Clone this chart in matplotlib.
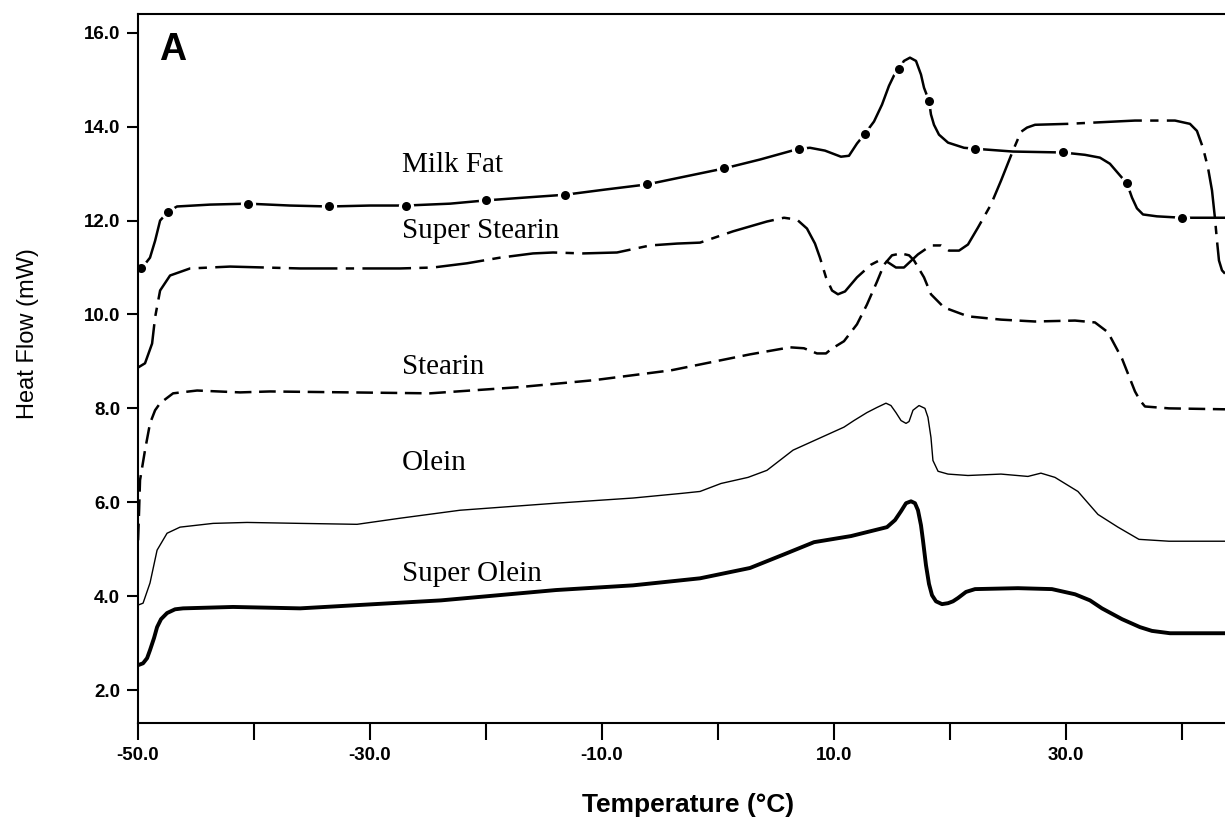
"""DSC melting thermograms of milk fat and its fractions (panel A)."""
import numpy as np
import matplotlib
matplotlib.use("Agg")
import matplotlib.pyplot as plt
from matplotlib.ticker import FormatStrFormatter

plt.rcParams["font.family"] = ["Liberation Sans", "DejaVu Sans"]
plt.rcParams["axes.unicode_minus"] = False
plt.rcParams["lines.scale_dashes"] = False

# Heat flow (mW) vs temperature (C)
milk_fat_temp = [-50.0, -49.57, -48.97, -48.53, -48.1, -47.41, -46.64, -43.79, -40.52,
                 -36.9, -33.53, -30.0, -26.9, -23.1, -20.0, -16.64, -13.19, -9.74, -6.12,
                 -2.41, 0.52, 3.62, 6.98, 7.93, 9.22, 10.6, 11.29, 11.98, 12.67, 13.45,
                 14.14, 14.74, 15.17, 15.6, 16.03, 16.55, 17.07, 17.5, 17.76, 18.19,
                 18.36, 18.62, 19.05, 19.83, 21.21, 22.16, 25.43, 29.74, 31.64, 32.93,
                 33.79, 34.66, 35.26, 35.69, 36.12, 36.64, 37.84, 40.0, 43.71]
milk_fat_flow = [10.94, 11.02, 11.21, 11.57, 12.0, 12.19, 12.3, 12.34, 12.36,
                 12.32, 12.3, 12.32, 12.32, 12.36, 12.43, 12.49, 12.55, 12.66, 12.77,
                 12.96, 13.11, 13.3, 13.53, 13.55, 13.49, 13.36, 13.38, 13.64, 13.85, 14.11,
                 14.47, 14.87, 15.09, 15.23, 15.4, 15.47, 15.4, 15.11, 14.83, 14.55,
                 14.26, 14.04, 13.83, 13.66, 13.55, 13.53, 13.47, 13.45, 13.4, 13.34,
                 13.21, 12.96, 12.79, 12.49, 12.26, 12.13, 12.09, 12.06, 12.06]
milk_fat_dot_temp = [-49.74, -47.41, -40.52, -33.53, -26.9, -20.0, -13.19, -6.12, 0.52,
                     6.98, 12.67, 15.6, 18.19, 22.16, 29.74, 35.26, 40.0]

super_stearin_temp = [-50.0, -49.4, -48.79, -48.53, -48.1, -47.24, -45.52, -42.07, -36.03,
                      -27.41, -24.57, -21.64, -18.79, -15.95, -14.22, -11.64, -8.71, -5.86,
                      -3.53, -1.55, 1.29, 4.22, 5.69, 6.81, 7.67, 8.36, 8.79, 9.31, 9.83,
                      10.34, 10.95, 11.98, 13.19, 14.05, 14.66, 15.34, 16.03, 17.24, 18.36,
                      19.22, 19.91, 20.78, 21.55, 22.41, 23.53, 24.4, 25.43, 26.12, 26.64,
                      27.33, 30.17, 35.95, 39.4, 40.69, 41.29, 41.81, 42.24, 42.59, 42.84,
                      43.02, 43.19, 43.45, 43.71]
super_stearin_flow = [8.87, 8.96, 9.38, 9.94, 10.51, 10.83, 10.98, 11.02, 10.98,
                      10.98, 11.0, 11.09, 11.21, 11.3, 11.32, 11.3, 11.32, 11.47,
                      11.51, 11.53, 11.77, 11.98, 12.06, 12.02, 11.83, 11.51, 11.21, 10.79, 10.51,
                      10.43, 10.49, 10.79, 11.06, 11.17, 11.11, 11.0, 11.0, 11.28, 11.47,
                      11.47, 11.36, 11.36, 11.49, 11.85, 12.34, 12.85, 13.49, 13.89, 13.98,
                      14.04, 14.06, 14.13, 14.13, 14.06, 13.91, 13.55, 13.13, 12.64, 12.06,
                      11.57, 11.15, 10.94, 10.87]

stearin_temp = [-50.0, -49.91, -49.83, -49.4, -48.97, -48.53, -48.1, -46.98, -44.91, -41.21,
                -38.62, -31.72, -24.83, -17.24, -10.69, -4.05, 2.76, 6.21, 7.41, 8.53, 9.31,
                9.74, 10.86, 11.98, 12.84, 13.71, 14.31, 15.0, 15.78, 16.47, 16.9, 17.76,
                18.36, 19.48, 21.55, 24.4, 27.33, 30.78, 32.5, 33.62, 34.83, 35.95, 36.38,
                36.81, 38.88, 43.71]
stearin_flow = [5.19, 5.83, 6.47, 7.11, 7.68, 7.96, 8.11, 8.32, 8.38, 8.34,
                8.36, 8.34, 8.32, 8.45, 8.6, 8.81, 9.15, 9.3, 9.28, 9.17, 9.17,
                9.26, 9.43, 9.79, 10.21, 10.7, 11.06, 11.26, 11.3, 11.26, 11.15, 10.79,
                10.43, 10.15, 9.96, 9.89, 9.85, 9.87, 9.83, 9.62, 9.06, 8.36, 8.17,
                8.04, 8.0, 7.98]

olein_temp = [-50.0, -49.57, -48.97, -48.36, -47.5, -46.38, -43.53, -40.6, -36.03, -31.12,
              -27.41, -22.24, -13.97, -7.33, -3.1, -1.55, 0.26, 2.59, 4.22, 6.47,
              8.53, 10.86, 11.72, 12.84, 13.71, 14.48, 14.91, 15.34, 15.78, 16.21,
              16.47, 16.81, 17.33, 17.84, 18.1, 18.36, 18.53, 18.97, 19.83, 21.55,
              24.4, 26.72, 27.84, 29.05, 31.03, 32.76, 34.48, 36.29, 38.88, 43.71]
olein_flow = [3.81, 3.85, 4.28, 4.98, 5.34, 5.47, 5.55, 5.57, 5.55, 5.53,
              5.66, 5.83, 5.98, 6.09, 6.19, 6.23, 6.4, 6.53, 6.68, 7.11,
              7.34, 7.6, 7.74, 7.91, 8.02, 8.11, 8.06, 7.91, 7.74, 7.68,
              7.72, 7.96, 8.06, 8.0, 7.81, 7.38, 6.89, 6.66, 6.6, 6.57,
              6.6, 6.55, 6.62, 6.53, 6.23, 5.74, 5.47, 5.21, 5.17, 5.17]

super_olein_temp = [-50.0, -49.57, -49.22, -48.97, -48.62, -48.36, -48.02, -47.5, -46.81,
                    -46.12, -41.81, -36.03, -23.88, -13.97, -7.33, -1.55, 2.76, 5.69, 8.28,
                    11.47, 14.57, 15.26, 15.78, 16.21, 16.64, 16.98, 17.24, 17.5, 17.67,
                    17.93, 18.19, 18.45, 18.79, 19.31, 19.83, 20.26, 20.69, 21.38, 22.16,
                    25.86, 28.79, 30.78, 32.07, 33.1, 34.83, 36.38, 37.41, 38.97, 43.71]
super_olein_flow = [2.53, 2.57, 2.68, 2.85, 3.11, 3.34, 3.51, 3.64, 3.72,
                    3.74, 3.77, 3.74, 3.91, 4.13, 4.23, 4.38, 4.6, 4.89, 5.15,
                    5.28, 5.47, 5.62, 5.81, 5.98, 6.02, 5.98, 5.83, 5.51, 5.19,
                    4.66, 4.26, 4.02, 3.89, 3.83, 3.85, 3.89, 3.96, 4.09, 4.15,
                    4.17, 4.15, 4.04, 3.91, 3.74, 3.51, 3.34, 3.26, 3.21, 3.21]

curve_names = ["Milk Fat", "Super Stearin", "Stearin", "Olein", "Super Olein"]

x_major = [-50, -30, -10, 10, 30]
x_minor = [-40, -20, 0, 20, 40]
y_ticks = [2, 4, 6, 8, 10, 12, 14, 16]


def plot_thermograms(output_file="out.png"):
    fig = plt.figure(figsize=(12.25, 8.23), dpi=100)
    ax = fig.add_axes([0.1127, 0.1215, 0.8873, 0.8615])

    # Milk fat: solid line broken around filled dots
    ax.plot(milk_fat_temp, milk_fat_flow, color="black", lw=1.8, zorder=2)
    dot_flow = np.interp(milk_fat_dot_temp, milk_fat_temp, milk_fat_flow)
    ax.plot(milk_fat_dot_temp, dot_flow, "o", ms=11, mfc="white", mec="white",
            mew=0, zorder=3)
    ax.plot(milk_fat_dot_temp, dot_flow, "o", ms=6.5, mfc="black", mec="black",
            mew=0, zorder=4)

    ax.plot(super_stearin_temp, super_stearin_flow, color="black", lw=1.8,
            dashes=(35, 6, 6, 6))
    ax.plot(stearin_temp, stearin_flow, color="black", lw=1.8, dashes=(12, 5.5))
    ax.plot(olein_temp, olein_flow, color="black", lw=1.0)
    ax.plot(super_olein_temp, super_olein_flow, color="black", lw=2.8)

    # curve labels
    label_y = [13.04, 11.62, 8.74, 6.68, 4.32]
    for name, y in zip(curve_names, label_y):
        ax.text(-27.24, y, name, family=["Liberation Serif", "DejaVu Serif"],
                fontsize=21, ha="left", va="baseline")
    ax.text(-48.2, 15.43, "A", fontsize=27, fontweight="bold", va="baseline")

    ax.set_xlim(-50, 43.71)
    ax.set_ylim(1.298, 16.40)
    ax.set_xticks(x_major)
    ax.set_xticks(x_minor, minor=True)
    ax.set_yticks(y_ticks)
    ax.xaxis.set_major_formatter(FormatStrFormatter("%.1f"))
    ax.yaxis.set_major_formatter(FormatStrFormatter("%.1f"))
    ax.tick_params(axis="x", which="both", direction="out", length=12, width=1.5,
                   pad=5, labelsize=13.5)
    ax.tick_params(axis="y", direction="out", length=8, width=1.5, pad=5,
                   labelsize=13.5)
    for lab in ax.get_xticklabels() + ax.get_yticklabels():
        lab.set_fontweight("bold")

    ax.spines["right"].set_visible(False)
    for s in ax.spines.values():
        s.set_linewidth(1.5)
        s.set_zorder(5)

    fig.text(0.023, 0.595, "Heat Flow (mW)", rotation=90, ha="center", va="center",
             fontsize=17)
    fig.text(0.5616, 0.022, "Temperature (°C)", ha="center", va="center",
             fontsize=19, fontweight="bold")

    fig.savefig(output_file, dpi=100)
    plt.close(fig)


plot_thermograms()
